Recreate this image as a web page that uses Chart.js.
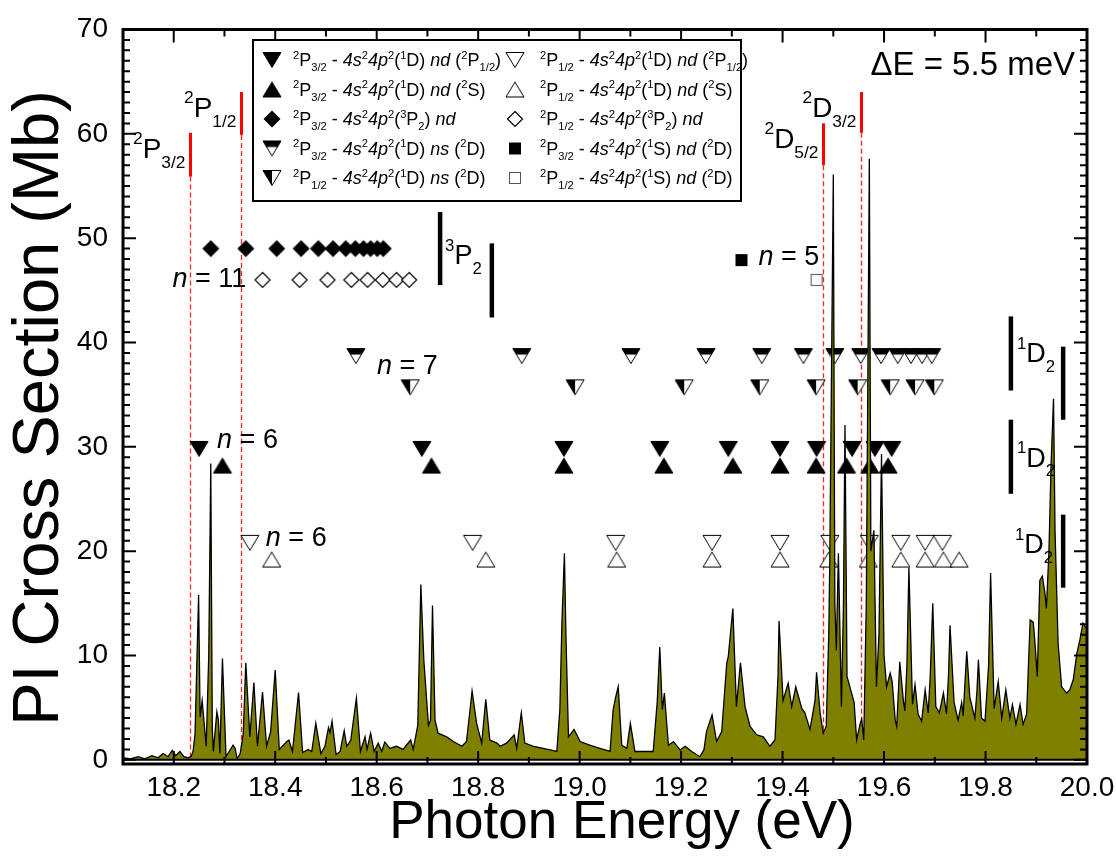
<!DOCTYPE html>
<html>
<head>
<meta charset="utf-8">
<script src="https://cdn.jsdelivr.net/npm/chart.js@4.4.1/dist/chart.umd.min.js"></script>
<style>
  html, body { margin: 0; padding: 0; background: #fff; }
</style>
</head>
<body>
<canvas id="chart" width="1116" height="863"></canvas>
<script>
// SPECTRUM: photon energy (eV) and PI cross section (Mb)
const energy = [
  18.100, 18.114, 18.130, 18.143, 18.157, 18.169, 18.179, 18.189, 18.197, 18.204,
  18.212, 18.220, 18.228, 18.234, 18.238, 18.242, 18.247, 18.249, 18.252, 18.256,
  18.264, 18.269, 18.273, 18.276, 18.278, 18.285, 18.288, 18.291, 18.296, 18.303,
  18.317, 18.321, 18.325, 18.331, 18.337, 18.342, 18.350, 18.358, 18.365, 18.375,
  18.383, 18.391, 18.400, 18.408, 18.423, 18.427, 18.434, 18.446, 18.454, 18.465,
  18.472, 18.480, 18.490, 18.498, 18.505, 18.508, 18.512, 18.520, 18.528, 18.536,
  18.541, 18.549, 18.560, 18.568, 18.577, 18.581, 18.588, 18.595, 18.603, 18.610,
  18.616, 18.626, 18.639, 18.652, 18.667, 18.672, 18.681, 18.687, 18.693, 18.702,
  18.706, 18.710, 18.715, 18.721, 18.738, 18.751, 18.768, 18.777, 18.784, 18.788,
  18.797, 18.807, 18.815, 18.823, 18.837, 18.843, 18.856, 18.871, 18.876, 18.885,
  18.892, 18.909, 18.928, 18.942, 18.955, 18.961, 18.965, 18.970, 18.973, 18.978,
  18.989, 19.001, 19.020, 19.040, 19.060, 19.066, 19.071, 19.076, 19.083, 19.093,
  19.100, 19.109, 19.125, 19.145, 19.153, 19.158, 19.163, 19.167, 19.175, 19.185,
  19.198, 19.208, 19.221, 19.237, 19.245, 19.250, 19.261, 19.270, 19.280, 19.290,
  19.293, 19.302, 19.309, 19.317, 19.326, 19.336, 19.349, 19.362, 19.375, 19.385,
  19.391, 19.393, 19.401, 19.411, 19.418, 19.426, 19.438, 19.444, 19.454, 19.464,
  19.467, 19.474, 19.480, 19.486, 19.491, 19.493, 19.500, 19.503, 19.506, 19.510,
  19.516, 19.520, 19.523, 19.527, 19.536, 19.541, 19.546, 19.553, 19.556, 19.560,
  19.565, 19.571, 19.574, 19.580, 19.585, 19.590, 19.595, 19.600, 19.605, 19.612,
  19.616, 19.622, 19.625, 19.631, 19.638, 19.641, 19.645, 19.649, 19.656, 19.661,
  19.667, 19.674, 19.681, 19.687, 19.691, 19.696, 19.702, 19.709, 19.717, 19.723,
  19.727, 19.730, 19.738, 19.746, 19.753, 19.756, 19.759, 19.763, 19.769, 19.779,
  19.783, 19.786, 19.792, 19.799, 19.806, 19.810, 19.817, 19.825, 19.832, 19.840,
  19.848, 19.853, 19.860, 19.868, 19.874, 19.881, 19.888, 19.894, 19.897, 19.902,
  19.907, 19.912, 19.917, 19.920, 19.925, 19.929, 19.934, 19.937, 19.943, 19.950,
  19.960, 19.966, 19.973, 19.980, 19.986, 19.992, 20.000
];
const sigma = [
  0.2, 0.1, 0.3, 0.1, 0.4, 0.2, 0.6, 0.3, 0.9, 0.4,
  0.8, 0.3, 0.2, 0.3, 0.8, 2.5, 12.0, 15.8, 4.1, 5.7,
  1.3, 10.0, 28.4, 3.0, 0.8, 4.6, 3.8, 0.6, 9.7, 0.3,
  1.4, 1.1, 0.1, 0.6, 2.5, 9.3, 2.2, 7.4, 1.3, 6.5,
  1.3, 2.7, 8.6, 1.0, 1.75, 1.9, 0.8, 6.45, 0.7, 1.0,
  0.8, 3.5, 0.6, 1.3, 3.1, 2.6, 3.7, 0.5, 0.8, 2.8,
  1.3, 1.9, 5.9, 0.8, 2.2, 1.0, 2.55, 0.8, 1.6, 0.8,
  1.7, 1.1, 1.3, 1.0, 1.9, 1.0, 3.3, 16.8, 9.5, 3.3,
  3.8, 14.8, 3.8, 2.55, 2.2, 1.75, 1.3, 1.75, 4.8, 6.6,
  3.5, 1.6, 5.8, 1.9, 1.6, 1.3, 1.6, 2.4, 1.1, 4.5,
  1.6, 1.3, 1.1, 0.95, 0.8, 4.8, 13.0, 19.8, 12.0, 2.2,
  2.9, 1.75, 1.4, 1.1, 0.8, 4.8, 6.0, 7.0, 1.4, 1.1,
  3.5, 0.8, 0.8, 0.8, 5.6, 10.8, 4.8, 6.4, 1.4, 1.75,
  0.95, 1.3, 0.8, 0.3, 0.95, 2.7, 4.3, 1.75, 2.7, 9.3,
  9.9, 14.5, 5.1, 9.3, 5.1, 3.2, 2.4, 2.2, 1.3, 1.9,
  8.0, 13.3, 5.7, 7.35, 5.1, 7.0, 4.9, 4.5, 2.9, 5.7,
  8.4, 4.5, 2.55, 3.2, 12.0, 19.0, 56.1, 15.0, 10.5, 19.8,
  5.1, 15.0, 32.1, 8.0, 6.4, 5.5, 1.9, 3.5, 3.9, 1.9,
  15.0, 57.6, 20.0, 22.0, 7.0, 12.0, 29.3, 10.0, 7.0, 8.3,
  7.5, 3.8, 3.2, 9.4, 5.7, 4.7, 9.0, 18.4, 5.3, 7.2,
  4.4, 3.7, 6.7, 4.5, 8.0, 15.0, 5.1, 4.5, 6.4, 4.4,
  8.0, 12.9, 5.5, 3.8, 5.5, 4.2, 7.0, 10.4, 6.0, 4.0,
  6.5, 9.6, 4.0, 3.7, 9.0, 17.9, 4.9, 7.5, 4.0, 6.7,
  4.0, 5.3, 3.4, 5.3, 3.4, 4.4, 13.4, 13.2, 11.5, 8.0,
  17.2, 17.6, 16.0, 14.5, 20.0, 28.0, 34.6, 22.0, 11.2, 7.0,
  6.4, 6.7, 7.7, 10.2, 11.5, 13.1, 12.5
];

// RYDBERG SERIES: resonance energies (eV) and the row height (Mb) of each marker row
const nd2P_32 = [18.250, 18.689, 18.969, 19.158, 19.293, 19.395, 19.467, 19.537, 19.582, 19.615];
const nd2S_32 = [18.296, 18.708, 18.969, 19.166, 19.302, 19.395, 19.466, 19.526, 19.572, 19.608];
const nd3P_32 = [18.273, 18.342, 18.403, 18.451, 18.485, 18.514, 18.539, 18.558, 18.574, 18.588, 18.601, 18.613];
const ns2D_32 = [18.559, 18.886, 19.101, 19.249, 19.359, 19.441, 19.503, 19.554, 19.594, 19.627, 19.653, 19.675, 19.694];
const ns2D_12 = [18.666, 18.991, 19.206, 19.355, 19.466, 19.548, 19.612, 19.661, 19.699];
const nd2P_12 = [18.350, 18.789, 19.071, 19.261, 19.395, 19.493, 19.571, 19.633, 19.681, 19.715];
const nd2S_12 = [18.393, 18.815, 19.073, 19.261, 19.395, 19.491, 19.569, 19.633, 19.681, 19.717, 19.748];
const nd3P_12 = [18.375, 18.448, 18.503, 18.550, 18.582, 18.612, 18.639, 18.664];
const nd1S_32 = [19.319];
const nd1S_12 = [19.467];
const rowLevel = [29.8, 28.2, 49.0, 38.7, 35.7, 20.8, 19.2, 46.0, 47.9, 46.0];

const seriesLabels = [
  '^{2}P_{3/2} - *4s*^{2}*4p*^{2}(^{1}D) *nd* (^{2}P_{1/2})',
  '^{2}P_{3/2} - *4s*^{2}*4p*^{2}(^{1}D) *nd* (^{2}S)',
  '^{2}P_{3/2} - *4s*^{2}*4p*^{2}(^{3}P_{2}) *nd*',
  '^{2}P_{3/2} - *4s*^{2}*4p*^{2}(^{1}D) *ns* (^{2}D)',
  '^{2}P_{1/2} - *4s*^{2}*4p*^{2}(^{1}D) *ns* (^{2}D)',
  '^{2}P_{1/2} - *4s*^{2}*4p*^{2}(^{1}D) *nd* (^{2}P_{1/2})',
  '^{2}P_{1/2} - *4s*^{2}*4p*^{2}(^{1}D) *nd* (^{2}S)',
  '^{2}P_{1/2} - *4s*^{2}*4p*^{2}(^{3}P_{2}) *nd*',
  '^{2}P_{3/2} - *4s*^{2}*4p*^{2}(^{1}S) *nd* (^{2}D)',
  '^{2}P_{1/2} - *4s*^{2}*4p*^{2}(^{1}S) *nd* (^{2}D)'
];
const seriesMarkers = ['down', 'up', 'diamond', 'downTop', 'downLeft', 'downOpen', 'upOpen', 'diamondOpen', 'square', 'squareOpen'];

// ionisation thresholds (eV)
const thresholdE = [18.232, 18.333, 19.480, 19.554];
const thresholdLabels = ['^{2}P_{3/2}', '^{2}P_{1/2}', '^{2}D_{5/2}', '^{2}D_{3/2}'];

// series limits (eV)
const limit3P = [18.725, 18.827];
const limit1D_left = 19.850;
const limit1D_right = 19.953;

const xTicks = [18.2, 18.4, 18.6, 18.8, 19.0, 19.2, 19.4, 19.6, 19.8, 20.0];
const yTicks = [0, 10, 20, 30, 40, 50, 60, 70];

const FONT = '"Liberation Sans", Arial, Helvetica, sans-serif';

// MARKERS
function markerCanvas(kind) {
  const c = document.createElement('canvas');
  c.width = 22; c.height = 22;
  const g = c.getContext('2d');
  const m = 11, hw = 9, hh = 7.5;
  g.lineWidth = 1;
  g.strokeStyle = '#000';
  g.lineJoin = 'miter';
  const poly = (pts, fill, stroke) => {
    g.beginPath();
    g.moveTo(pts[0][0], pts[0][1]);
    for (let i = 1; i < pts.length; i++) g.lineTo(pts[i][0], pts[i][1]);
    g.closePath();
    if (fill) { g.fillStyle = fill; g.fill(); }
    if (stroke) g.stroke();
  };
  const down = [[m - hw, m - hh], [m + hw, m - hh], [m, m + hh]];
  const up = [[m - hw, m + hh], [m + hw, m + hh], [m, m - hh]];
  if (kind === 'down') poly(down, '#000', true);
  if (kind === 'up') poly(up, '#000', true);
  if (kind === 'downOpen') poly(down, '#fff', true);
  if (kind === 'upOpen') poly(up, '#fff', true);
  if (kind === 'downTop') {
    poly(down, '#fff', false);
    const b = 6, k = hw * b / (2 * hh);
    poly([[m - hw, m - hh], [m + hw, m - hh], [m + hw - k, m - hh + b], [m - hw + k, m - hh + b]], '#000', false);
    poly(down, null, true);
  }
  if (kind === 'downLeft') {
    poly(down, '#fff', false);
    poly([[m - hw, m - hh], [m, m - hh], [m, m + hh]], '#000', false);
    poly(down, null, true);
  }
  if (kind === 'diamond') poly([[m, m - 8.5], [m + 8.5, m], [m, m + 8.5], [m - 8.5, m]], '#000', false);
  if (kind === 'diamondOpen') { g.lineWidth = 1.2; poly([[m, m - 7.5], [m + 7.5, m], [m, m + 7.5], [m - 7.5, m]], '#fff', true); }
  if (kind === 'square') { g.fillStyle = '#000'; g.fillRect(m - 6, m - 6, 12, 12); }
  if (kind === 'squareOpen') { g.fillStyle = '#fff'; g.fillRect(m - 6, m - 6, 12, 12); g.strokeStyle = '#555'; g.strokeRect(m - 5.5, m - 5.5, 11, 11); }
  return c;
}

// RICH TEXT: ^{sup}, _{sub}, *italic*
function richParts(str) {
  const re = /\^\{([^}]*)\}|_\{([^}]*)\}|\*([^*]*)\*|([^^_*]+)/g;
  const out = [];
  let m;
  while ((m = re.exec(str)) !== null) {
    if (m[1] !== undefined) out.push({ t: m[1], k: 'sup' });
    else if (m[2] !== undefined) out.push({ t: m[2], k: 'sub' });
    else if (m[3] !== undefined) out.push({ t: m[3], k: 'i' });
    else out.push({ t: m[4], k: 'n' });
  }
  return out;
}

function drawRich(ctx, str, x, y, size, align, supDy, subDy) {
  const small = size * 0.62;
  let w = 0;
  const items = richParts(str).map(p => {
    const s = (p.k === 'sup' || p.k === 'sub') ? small : size;
    const font = (p.k === 'i' ? 'italic ' : '') + s + 'px ' + FONT;
    ctx.font = font;
    const pw = ctx.measureText(p.t).width;
    const dy = p.k === 'sup' ? -size * supDy : p.k === 'sub' ? size * subDy : 0;
    w += pw;
    return { t: p.t, font, pw, dy };
  });
  let cx = align === 'right' ? x - w : align === 'center' ? x - w / 2 : x;
  ctx.textAlign = 'left';
  ctx.textBaseline = 'alphabetic';
  ctx.fillStyle = '#000';
  for (const it of items) {
    ctx.font = it.font;
    ctx.fillText(it.t, cx, y + it.dy);
    cx += it.pw;
  }
  return w;
}

const markerImgs = seriesMarkers.map(markerCanvas);

// thresholds and series limits under the spectrum
const thresholdPlugin = {
  id: 'thresholds',
  beforeDatasetsDraw(chart) {
    const { ctx, scales: { x, y } } = chart;
    const solid = [[55.9, 60.1], [59.9, 64.0], [57.0, 61.0], [60.1, 64.0]];
    ctx.save();
    thresholdE.forEach((e, i) => {
      const px = Math.round(x.getPixelForValue(e)) + 0.5;
      ctx.strokeStyle = '#ff2020';
      ctx.lineWidth = 1.3;
      ctx.setLineDash([5, 3]);
      ctx.beginPath();
      ctx.moveTo(px, y.getPixelForValue(solid[i][0]));
      ctx.lineTo(px, y.getPixelForValue(0));
      ctx.stroke();
      ctx.setLineDash([]);
      ctx.strokeStyle = '#ff0000';
      ctx.lineWidth = 3;
      ctx.beginPath();
      ctx.moveTo(px, y.getPixelForValue(solid[i][0]));
      ctx.lineTo(px, y.getPixelForValue(solid[i][1]));
      ctx.stroke();
      const base = y.getPixelForValue(solid[i][1]) + 25;
      drawRich(ctx, thresholdLabels[i], px - 5, base, 28, 'right', 0.5, 0.36);
    });
    ctx.restore();
  }
};

// frame, ticks, labels and legend on top
const overlayPlugin = {
  id: 'overlay',
  afterDraw(chart) {
    const { ctx, chartArea: a, scales: { x, y } } = chart;
    ctx.save();

    // zero line
    ctx.strokeStyle = '#000';
    ctx.lineWidth = 2;
    ctx.beginPath();
    ctx.moveTo(a.left, y.getPixelForValue(0));
    ctx.lineTo(a.right, y.getPixelForValue(0));
    ctx.stroke();

    // inward ticks on all four sides
    ctx.lineWidth = 2;
    for (let k = 181; k <= 200; k++) {
      const px = x.getPixelForValue(k / 10);
      const len = k % 2 === 0 ? 13 : 7;
      ctx.beginPath();
      ctx.moveTo(px, a.top); ctx.lineTo(px, a.top + len);
      ctx.moveTo(px, a.bottom); ctx.lineTo(px, a.bottom - len);
      ctx.stroke();
    }
    for (let k = 0; k <= 70; k++) {
      const py = y.getPixelForValue(k);
      const len = k % 10 === 0 ? 13 : 7;
      ctx.beginPath();
      ctx.moveTo(a.left, py); ctx.lineTo(a.left + len, py);
      ctx.moveTo(a.right, py); ctx.lineTo(a.right - len, py);
      ctx.stroke();
    }
    ctx.lineWidth = 3;
    ctx.strokeRect(a.left, a.top, a.right - a.left, a.bottom - a.top);

    // series limit bars
    ctx.lineWidth = 4.5;
    const bar = (e, y0, y1) => {
      const px = x.getPixelForValue(e);
      ctx.beginPath();
      ctx.moveTo(px, y.getPixelForValue(y0));
      ctx.lineTo(px, y.getPixelForValue(y1));
      ctx.stroke();
    };
    bar(limit3P[0], 45.5, 52.5);
    bar(limit3P[1], 42.4, 49.5);
    bar(limit1D_left, 35.4, 42.5);
    bar(limit1D_right, 32.6, 39.6);
    bar(limit1D_left, 25.5, 32.6);
    bar(limit1D_right, 16.5, 23.5);
    const lx = (e, dx) => x.getPixelForValue(e) + dx;
    drawRich(ctx, '^{3}P_{2}', lx(limit3P[0], 5), y.getPixelForValue(47.5), 27, 'left', 0.5, 0.36);
    drawRich(ctx, '^{1}D_{2}', lx(limit1D_left, 6), y.getPixelForValue(38.1), 27, 'left', 0.5, 0.36);
    drawRich(ctx, '^{1}D_{2}', lx(limit1D_left, 6), y.getPixelForValue(28.1), 27, 'left', 0.5, 0.36);
    drawRich(ctx, '^{1}D_{2}', lx(limit1D_left, 4), y.getPixelForValue(19.8), 27, 'left', 0.5, 0.36);

    // principal quantum numbers
    drawRich(ctx, '*n* = 11', lx(nd3P_12[0], -90), y.getPixelForValue(45.3), 27, 'left');
    drawRich(ctx, '*n* = 7', lx(ns2D_32[0], 21), y.getPixelForValue(37.0), 27, 'left');
    drawRich(ctx, '*n* = 6', lx(nd2P_32[0], 18), y.getPixelForValue(29.9), 27, 'left');
    drawRich(ctx, '*n* = 6', lx(nd2P_12[0], 16), y.getPixelForValue(20.5), 27, 'left');
    drawRich(ctx, '*n* = 5', lx(nd1S_32[0], 17), y.getPixelForValue(47.4), 27, 'left');

    ctx.font = '33px ' + FONT;
    ctx.textAlign = 'right';
    ctx.fillStyle = '#000';
    ctx.fillText('\u0394E = 5.5 meV', 1075, 75);

    // axis titles
    ctx.font = '53px ' + FONT;
    ctx.textAlign = 'center';
    ctx.fillText('Photon Energy (eV)', 622, 838);
    ctx.save();
    ctx.translate(58, 408);
    ctx.rotate(-Math.PI / 2);
    ctx.font = '65px ' + FONT;
    ctx.fillText('PI Cross Section (Mb)', 0, 0);
    ctx.restore();

    // legend
    const box = { l: 253, t: 40, r: 741, b: 201 };
    ctx.fillStyle = '#fff';
    ctx.fillRect(box.l, box.t, box.r - box.l, box.b - box.t);
    ctx.strokeStyle = '#000';
    ctx.lineWidth = 2;
    ctx.strokeRect(box.l, box.t, box.r - box.l, box.b - box.t);
    seriesLabels.forEach((lab, i) => {
      const col = Math.floor(i / 5), row = i % 5;
      const cy = 60 + row * 29.5;
      const mx = col === 0 ? 272 : 515;
      const img = markerImgs[i];
      ctx.drawImage(img, mx - img.width / 2, cy - img.height / 2);
      drawRich(ctx, lab, col === 0 ? 293 : 540, cy + 6, 18, 'left', 0.4, 0.28);
    });
    ctx.restore();
  }
};

const seriesData = [nd2P_32, nd2S_32, nd3P_32, ns2D_32, ns2D_12, nd2P_12, nd2S_12, nd3P_12, nd1S_32, nd1S_12];

const datasets = [{
  label: 'PI',
  data: energy.map((e, i) => ({ x: e, y: sigma[i] })),
  showLine: true,
  fill: 'origin',
  backgroundColor: '#808000',
  borderColor: '#000',
  borderWidth: 1.3,
  pointRadius: 0,
  tension: 0
}];
seriesData.forEach((xs, i) => {
  datasets.push({
    label: seriesLabels[i],
    data: xs.map(e => ({ x: e, y: rowLevel[i] })),
    showLine: false,
    pointStyle: markerImgs[i],
    pointRadius: 10
  });
});

new Chart(document.getElementById('chart'), {
  type: 'scatter',
  data: { datasets },
  options: {
    responsive: false,
    animation: false,
    events: [],
    layout: { padding: { left: 0, right: 29, top: 29.5, bottom: 0 } },
    plugins: { legend: { display: false }, tooltip: { enabled: false } },
    scales: {
      x: {
        type: 'linear', min: 18.1, max: 20.0,
        grid: { display: false, drawTicks: false },
        border: { display: false },
        afterBuildTicks: s => { s.ticks = xTicks.map(v => ({ value: v })); },
        afterFit: s => { s.height = 99; s.paddingLeft = 0; s.paddingRight = 0; },
        ticks: {
          color: '#000', padding: 7, maxRotation: 0, autoSkip: false,
          font: { family: FONT, size: 28 },
          callback: v => Number(v).toFixed(1)
        }
      },
      y: {
        type: 'linear', min: -0.4, max: 70,
        grid: { display: false, drawTicks: false },
        border: { display: false },
        afterBuildTicks: s => { s.ticks = yTicks.map(v => ({ value: v })); },
        afterFit: s => { s.width = 123; s.paddingTop = 0; s.paddingBottom = 0; },
        ticks: {
          color: '#000', padding: 15, autoSkip: false,
          font: { family: FONT, size: 28 },
          callback: v => String(v)
        }
      }
    }
  },
  plugins: [thresholdPlugin, overlayPlugin]
});
</script>
</body>
</html>
